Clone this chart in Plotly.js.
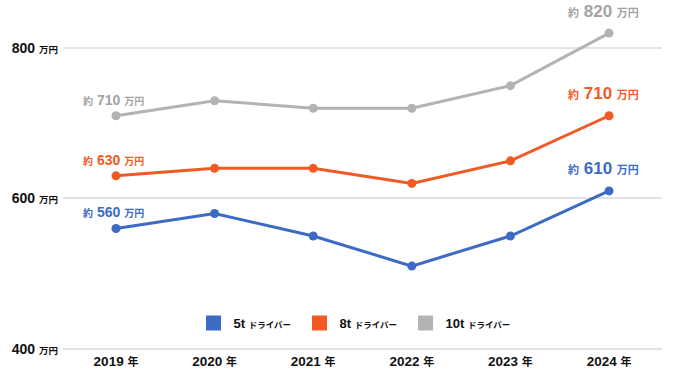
<!DOCTYPE html>
<html><head><meta charset="utf-8">
<script src="https://cdn.plot.ly/plotly-3.0.1.min.js"></script>
<style>html,body{margin:0;padding:0;background:#fff;}#chart{width:673px;height:382px;}</style>
</head><body><div id="chart"></div>
<script>
const years = ["2019", "2020", "2021", "2022", "2023", "2024"];
const yearLabels = ["2019", "2020", "2021", "2022", "2023", "2024"];
const seriesNames = ["5t", "8t", "10t"];
const val5t = [560, 580, 550, 510, 550, 610];
const val8t = [630, 640, 640, 620, 650, 710];
const val10t = [710, 730, 720, 720, 750, 820];
const yTicks = [400, 600, 800];
const colors = ["#3d6bc3", "#f15a24", "#b3b3b3"];
const labelColors = ["#3d6bc3", "#f15a24", "#a3a3a3"];

const FONT = "'Liberation Sans', Arial, 'Noto Sans CJK JP', sans-serif";
const all = [val5t, val8t, val10t];
const xIdx = years.map((_, i) => i);
const traces = [];
all.forEach((v, i) => {
  traces.push({
    x: xIdx, y: v, type: "scatter", mode: "lines+markers",
    line: {color: colors[i], width: 3},
    marker: {color: colors[i], size: 9},
    showlegend: false, hoverinfo: "skip"
  });
});
all.forEach((v, i) => {
  traces.push({
    x: [null], y: [null], type: "scatter", mode: "markers",
    marker: {color: colors[i], size: 15, symbol: "square"},
    name: "<b>" + seriesNames[i] + " <span style='font-size:8.5px'>ドライバー</span></b>",
    showlegend: true
  });
});

const annotations = [];
all.forEach((v, i) => {
  annotations.push({
    x: 0, y: v[0], xref: "x", yref: "y",
    text: "<b><span style='font-size:10px'>約</span> " + v[0] + " <span style='font-size:10px'>万円</span></b>",
    showarrow: false, yshift: 16, xshift: -3,
    font: {family: FONT, size: 14, color: labelColors[i]}
  });
  const n = v.length - 1;
  annotations.push({
    x: n, y: v[n], xref: "x", yref: "y",
    text: "<b><span style='font-size:11px'>約</span> " + v[n] + " <span style='font-size:11px'>万円</span></b>",
    showarrow: false, yshift: 22, xshift: -6,
    font: {family: FONT, size: 17, color: labelColors[i]}
  });
});

const layout = {
  width: 673, height: 382,
  margin: {l: 63, r: 11, t: 3, b: 31},
  paper_bgcolor: "#fff", plot_bgcolor: "#fff",
  font: {family: FONT, color: "#111"},
  xaxis: {
    type: "linear", range: [-0.5375, 5.537],
    tickvals: xIdx, ticktext: yearLabels.map(s => "<b>" + s + " <span style='font-size:11px'>年</span></b>"),
    showgrid: false, zeroline: false, showline: false, ticks: "",
    tickfont: {family: FONT, size: 13.5, color: "#111"}
  },
  yaxis: {
    range: [397, 860], tickvals: yTicks,
    ticktext: yTicks.map(t => "<b>" + t + " <span style='font-size:9.5px'>万円</span></b>"),
    showgrid: true, gridcolor: "#e3e3e3", gridwidth: 2, zeroline: false, showline: false,
    ticks: "", ticklabelstandoff: 4,
    tickfont: {family: FONT, size: 14, color: "#111"}
  },
  legend: {
    orientation: "h", x: 0.5 - 10 / 599, xanchor: "center", xref: "paper",
    yref: "paper", yanchor: "middle",
    entrywidth: 61, entrywidthmode: "pixels",
    font: {family: FONT, size: 13, color: "#111"},
    traceorder: "normal", bgcolor: "rgba(0,0,0,0)"
  },
  annotations: annotations
};
layout.legend.y = (382 - 31 - 323) / (382 - 3 - 31);
Plotly.newPlot("chart", traces, layout, {displayModeBar: false, staticPlot: true});
</script></body></html>
